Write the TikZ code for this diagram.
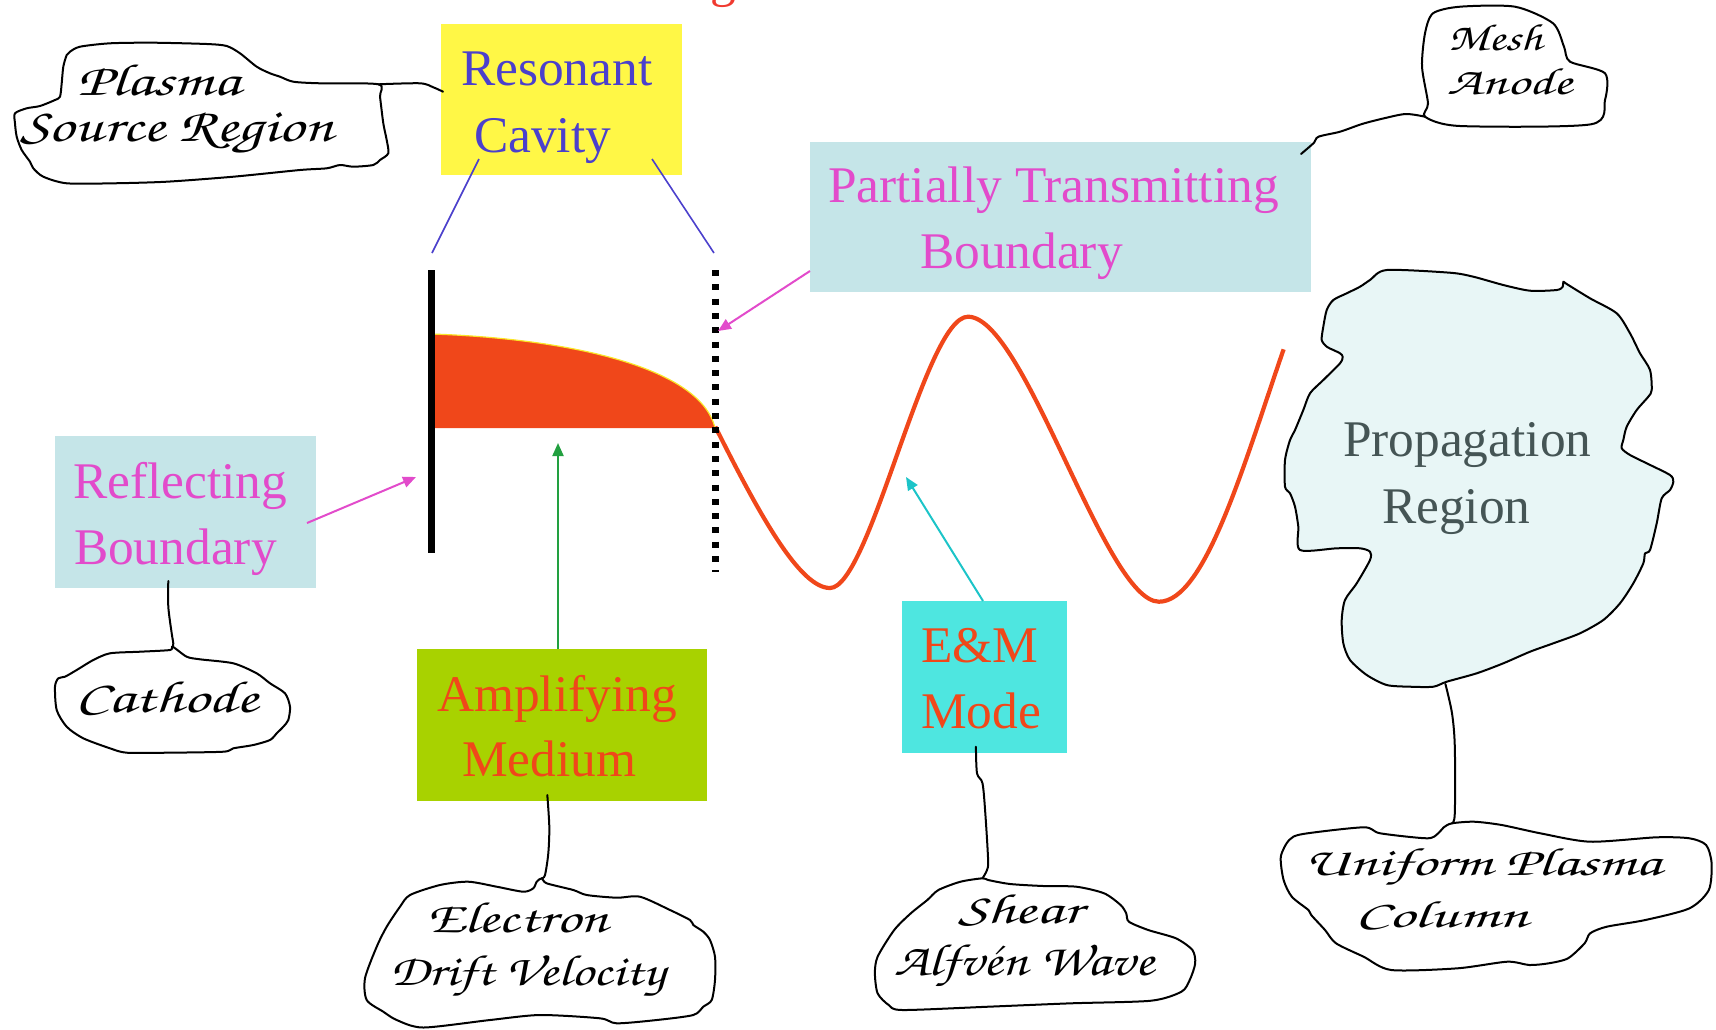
\documentclass[tikz,border=0pt]{standalone}
\usepackage[T1]{fontenc}
\usepackage{fontspec}
\setmainfont{Liberation Serif}
\usepackage{graphicx}
\usetikzlibrary{arrows.meta}

\definecolor{cavityyellow}{RGB}{255,247,70}
\definecolor{cavityblue}{RGB}{75,64,204}
\definecolor{paleteal}{RGB}{197,229,232}
\definecolor{pinkmag}{RGB}{226,75,203}
\definecolor{hotorange}{RGB}{240,71,26}
\definecolor{limegreen}{RGB}{168,210,0}
\definecolor{arrowgreen}{RGB}{34,160,64}
\definecolor{modecyan}{RGB}{78,230,224}
\definecolor{arrowcyan}{RGB}{28,196,200}
\definecolor{propfill}{RGB}{232,246,246}
\definecolor{proptext}{RGB}{69,85,85}
\definecolor{titlered}{RGB}{240,58,48}
\definecolor{rimyellow}{RGB}{250,230,40}

\newcommand\handfont{\fontencoding{T1}\fontfamily{pzc}\fontseries{m}\fontshape{it}\selectfont}
\newcommand\handtxt[3]{\resizebox{#1}{#2}{\handfont #3}}
\newcommand\bigserif{\fontsize{25.7pt}{33pt}\selectfont}

\tikzset{
  panel/.style={inner sep=0pt, outer sep=0pt},
  caption/.style={anchor=base west, inner sep=0pt, outer sep=0pt, font=\bigserif},
  script/.style={anchor=base west, inner sep=0pt, outer sep=0pt},
  blob/.style={draw=black, line width=1pt, line join=round, fill=white},
  tether/.style={draw=black, line width=1pt, line cap=round, line join=round},
  guide/.style={draw=cavityblue, line width=0.8pt},
  pointer/.style={line width=1pt, -{Triangle[length=6.5pt,width=5.5pt]}},
}

\begin{document}
\begin{tikzpicture}[x=0.5pt,y=-0.5pt]
\useasboundingbox (0,0) rectangle (1716,1029);

% tail of the red heading above the frame
\node[anchor=base west, inner sep=0pt, font=\bigserif, text=titlered] (headtail) at (710,-4) {g};

% ---------- coloured label panels ----------
\node[panel, fill=cavityyellow, minimum width=120.5pt, minimum height=75.5pt] (cavity) at (561.5,99.5) {};
\node[panel, fill=paleteal, minimum width=250.5pt, minimum height=75pt] (ptb) at (1060.5,217) {};
\node[panel, fill=paleteal, minimum width=130.5pt, minimum height=76pt] (refl) at (185.5,512) {};
\node[panel, fill=limegreen, minimum width=145pt, minimum height=76pt] (amp) at (562,725) {};
\node[panel, fill=modecyan, minimum width=82.5pt, minimum height=76pt] (mode) at (984.5,677) {};

\node[caption, text=cavityblue] (cavityA) at (461,85) {Resonant};
\node[caption, text=cavityblue] (cavityB) at (474,152) {Cavity};
\node[caption, text=pinkmag] (ptbA) at (828,202) {Partially Transmitting};
\node[caption, text=pinkmag] (ptbB) at (920,268) {Boundary};
\node[caption, text=pinkmag] (reflA) at (73,498) {Reflecting};
\node[caption, text=pinkmag] (reflB) at (74,564) {Boundary};
\node[caption, text=hotorange] (ampA) at (437,711) {Amplifying};
\node[caption, text=hotorange] (ampB) at (462,776) {Medium};
\node[caption, text=hotorange] (modeA) at (921,662) {E\&M};
\node[caption, text=hotorange] (modeB) at (921,728) {Mode};

% ---------- hand-drawn callout clouds ----------
% plasma source region
\draw[blob] plot[smooth cycle, tension=0.45] coordinates {
 (70,51.7) (80,46.7) (110,43.3) (153.3,42.7) (206.7,44) (226.7,46) (240,53.3)
 (256.7,66.7) (270,73.3) (280,76.7) (293.3,81.7) (320,83.3) (378.3,84.3)
 (380,96.7) (383.3,123.3) (386.7,140) (388.3,153.3) (380,160) (373.3,165)
 (353.3,166.7) (340,165) (326.7,168.3) (300,170) (233.3,176.7) (166.7,181.7)
 (113.3,183.3) (66.7,183.3) (43.3,176.7) (33.3,168.3) (30,161.7) (21.7,150)
 (16.7,136.7) (15,123.3) (15,113.3) (26.7,108.3) (40,106) (55,100) (60,96.7)
 (61.7,83.3) (63.3,66.7) (66.7,55)};
\coordinate (sourceTip) at (378.3,84.3);
\node[script] (sourceA) at (77,95) {\handtxt{81.5pt}{16pt}{Plasma}};
\node[script] (sourceB) at (20,141) {\handtxt{156.5pt}{15.5pt}{Source Region}};

% mesh anode
\draw[blob] plot[smooth cycle, tension=0.45] coordinates {
 (1425,116.7) (1460,126) (1591,124.3) (1605,100) (1605,73.3) (1570,61.7)
 (1564,46.7) (1553,23.3) (1515,6.7) (1460,6.7) (1433,13.3) (1425,33.3)
 (1422,66.7) (1428,103.3)};
\coordinate (meshTip) at (1425,116.7);
\node[script] (meshA) at (1448,50) {\handtxt{47pt}{13.5pt}{Mesh}};
\node[script] (meshB) at (1447,94) {\handtxt{62.5pt}{13.5pt}{Anode}};

% cathode
\draw[blob] plot[smooth cycle, tension=0.45] coordinates {
 (172.7,646.7) (186.7,656.7) (200,659.3) (233.3,663.3) (256.7,673.3) (270,683.3)
 (285,693.3) (290,706.7) (288.3,720) (283.3,726.7) (276.7,733.3) (270,740)
 (253.3,745) (233.3,748.3) (223.3,751.7) (166.7,752.7) (126.7,752.7) (110,748.3)
 (83.3,738.3) (66.7,726.7) (56.7,710) (55,686.7) (58.3,678.3) (65,676.7)
 (76.7,670) (93.3,660) (110,653.3) (140,651.7) (170,650)};
\coordinate (cathodeTip) at (172.7,646.7);
\node[script] (cathodeA) at (75,712) {\handtxt{91.5pt}{16pt}{Cathode}};

% electron drift velocity
\draw[blob] plot[smooth cycle, tension=0.45] coordinates {
 (541.7,878.3) (536.7,881.7) (533.3,888.3) (523.3,891.7) (496.7,886.7)
 (468.3,881.7) (440,885) (410,895) (400,906.7) (386.7,926.7) (376.7,946.7)
 (365,978.3) (366.7,1000) (383.3,1011.7) (396.7,1020) (423.3,1027.5)
 (490,1020) (540,1015) (600,1018.3) (616.7,1023.3) (656.7,1020) (693.3,1015)
 (703.3,1006.7) (711.7,1000) (715,980) (715,956.7) (710,940) (703.3,931.7)
 (693.3,925) (690,920) (670,910) (640,896.7) (616.7,897.7) (586.7,895)
 (573.3,890) (546.7,883.3)};
\coordinate (driftTip) at (541.7,878.3);
\node[script] (driftA) at (427,932) {\handtxt{90.5pt}{15.5pt}{Electron}};
\node[script] (driftB) at (390,985) {\handtxt{137.5pt}{15.5pt}{Drift Velocity}};

% shear alfven wave
\draw[blob] plot[smooth cycle, tension=0.45] coordinates {
 (982.5,878.3) (988.1,880) (1010.2,884) (1043.3,886) (1076.4,886.7)
 (1104.1,893.3) (1120.6,905) (1126.2,913.3) (1128.9,921.7) (1148.2,930)
 (1175.9,938.3) (1192.4,950) (1195.2,963.3) (1189.7,980) (1181.4,991.7)
 (1151,1000.7) (1070.9,1003.3) (988.1,1006.7) (902.5,1010) (888.7,1005)
 (877.6,993.3) (874.9,973.3) (877.6,956.7) (894.2,930) (910.8,913.3)
 (927.3,900) (938.4,890) (960.5,881.7)};
\coordinate (shearTip) at (982.5,878.3);
\node[script] (shearA) at (958,923) {\handtxt{62pt}{15pt}{Shear}};
\node[script] (shearB) at (894,975) {\handtxt{130pt}{16pt}{Alfv\'en Wave}};

% uniform plasma column
\draw[blob] plot[smooth cycle, tension=0.45] coordinates {
 (1452,823.3) (1443.7,827.3) (1438.2,833.3) (1427.2,838.3) (1380.2,833.3)
 (1363.6,827.3) (1302.9,834) (1289.1,840) (1280.8,856.7) (1283.6,880)
 (1291.8,896.7) (1308.4,910) (1311.2,915) (1325,930) (1336,943.3)
 (1363.6,956.7) (1391.3,970) (1457.5,968.3) (1507.2,961.7) (1529.3,965)
 (1548.7,963.3) (1568,958.3) (1584.6,943.3) (1590.1,933.3) (1606.7,926.7)
 (1645.3,920) (1689.5,908.3) (1708.8,890) (1711.6,863.3) (1706.1,845)
 (1689.5,838.3) (1656.4,837.3) (1590.1,841.7) (1540.4,833.3) (1501.7,825)
 (1474.1,821.7)};
\coordinate (columnTip) at (1452,823.3);
\node[script] (columnA) at (1304,875) {\handtxt{178.5pt}{14pt}{Uniform Plasma}};
\node[script] (columnB) at (1355,927) {\handtxt{86.5pt}{13.5pt}{Column}};

% propagation region
\draw[blob, fill=propfill] plot[smooth cycle, tension=0.45] coordinates {
 (1386.7,270) (1450,272.7) (1473.3,276.7) (1503.3,285) (1530,290.7)
 (1556.7,290) (1562.7,286.7) (1563.3,281.7) (1566.7,284) (1590,298.3)
 (1616.7,313.3) (1630,333.3) (1640,353.3) (1650,370) (1651.7,390)
 (1648.3,396.7) (1636.7,410) (1626.7,426.7) (1623.3,440) (1621.7,448.3)
 (1630,455) (1646.7,463.3) (1670,475) (1673.3,481.7) (1670,490)
 (1661.7,498.3) (1656.7,523.3) (1650,550) (1645,553.3) (1643.3,563.3)
 (1633.3,583.3) (1620,603.3) (1603.3,620) (1580,633.3) (1553.3,643.3)
 (1530,651.7) (1503.3,663.3) (1476.7,673.3) (1446.7,681.7) (1433.3,686.7)
 (1410,686.7) (1386.7,685) (1366.7,675) (1350,660) (1343.3,643.3)
 (1341.7,620) (1345,600) (1356.7,583.3) (1370,560) (1370,551.7)
 (1360,548.3) (1336.7,548.3) (1300,550) (1298.3,526.7) (1295,506.7)
 (1290,493.3) (1285,486.7) (1285,460) (1290,440) (1295,430) (1303.3,410)
 (1310,393.3) (1323.3,380) (1340,363.3) (1342.7,356.7) (1340,353.3)
 (1333.3,350) (1326.7,346.7) (1321.7,340) (1323.3,326.7) (1326.7,310)
 (1333.3,300) (1346.7,293.3) (1360,286.7) (1370,280)};
\coordinate (propTip) at (1445.4,684);
\node[caption, text=proptext] (propA) at (1343,456.7) {Propagation};
\node[caption, text=proptext] (propB) at (1382,523.3) {Region};

% ---------- cavity contents ----------
\fill[hotorange] (431,334) .. controls (560,338) and (700,365) .. (715,428) -- (431,428) -- cycle;
\draw[rimyellow, line width=0.6pt] (431,334) .. controls (560,338) and (700,365) .. (715,428);

% outgoing wave: four half-swings
\draw[hotorange, line width=2.1pt, line join=round]
  (715.3,426.7) .. controls (760,516) and (800,588) .. (830,588)
  .. controls (870,588) and (925,316.7) .. (968,316.7)
  .. controls (1025,316.7) and (1105,601.7) .. (1159,601.7)
  .. controls (1205,601.7) and (1243.6,465) .. (1283.6,349.3);

% reflecting wall and partially transmitting mesh
\draw[black, line width=3.5pt] (431.5,270) -- (431.5,553);
\draw[black, line width=3.5pt, dash pattern=on 3pt off 4.15pt] (715.7,270) -- (715.7,572);

% ---------- pointers ----------
\coordinate (wallTop) at (432,253);
\coordinate (meshTop) at (714,253);
\coordinate (cavL) at (479,159);
\coordinate (cavR) at (652,159);
\draw[guide] (cavL) -- (wallTop);
\draw[guide] (cavR) -- (meshTop);

\coordinate (reflFrom) at (307,523);
\coordinate (wallPt) at (416,477);
\draw[pointer, pinkmag] (reflFrom) -- (wallPt);

\coordinate (ptbFrom) at (810,271);
\coordinate (meshPt) at (718,331);
\draw[pointer, pinkmag] (ptbFrom) -- (meshPt);

\coordinate (ampFrom) at (558,649);
\coordinate (mediumPt) at (558,443);
\draw[pointer, arrowgreen] (ampFrom) -- (mediumPt);

\coordinate (modeFrom) at (983,601);
\coordinate (wavePt) at (906,477);
\draw[pointer, arrowcyan] (modeFrom) -- (wavePt);

% ---------- tethers from panels to clouds ----------
\coordinate (cavityIn) at (443,91.7);
\draw[tether] plot[smooth, tension=0.5] coordinates {(sourceTip) (420,83.3) (433.3,87.3) (cavityIn)};

\coordinate (reflIn) at (168.3,581);
\draw[tether] plot[smooth, tension=0.5] coordinates {(reflIn) (168.3,606.7) (171.7,633.3) (173.3,643.3) (cathodeTip)};

\coordinate (ampIn) at (547.3,795);
\draw[tether] plot[smooth, tension=0.5] coordinates {(ampIn) (549.3,826.7) (548.3,853.3) (545,875) (driftTip)};

\coordinate (modeIn) at (975.9,746.7);
\draw[tether] plot[smooth, tension=0.5] coordinates {(modeIn) (977,773.3) (982.5,783.3) (985.3,813.3) (988.1,860) (987,870) (shearTip)};

\draw[tether] plot[smooth, tension=0.5] coordinates {(propTip) (1452,713.3) (1454.8,746.7) (1454.8,813.3) (columnTip)};

\coordinate (ptbIn) at (1301,154);
\draw[tether] plot[smooth, tension=0.5] coordinates {(meshTip) (1405.9,114) (1384,118.3) (1362,124) (1340,131.7) (1318.5,136.7) (1314,142.7) (ptbIn)};
\end{tikzpicture}
\end{document}
